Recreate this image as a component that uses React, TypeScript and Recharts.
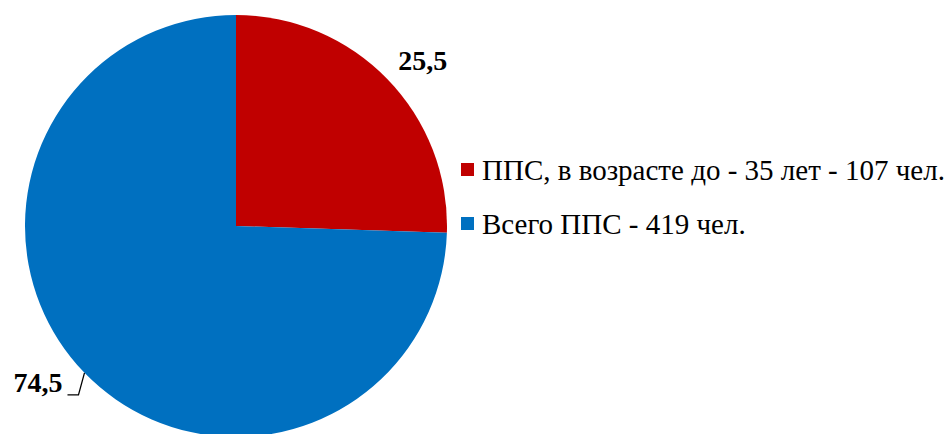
import { PieChart, Pie, Cell, Legend } from 'recharts'

const categories = ['ППС, в возрасте до - 35 лет - 107 чел.', 'Всего ППС - 419 чел.']
const shares = [25.5, 74.5]
const valueLabels = ['25,5', '74,5']
const colors = ['#C00000', '#0070C0']

const data = categories.map((name, i) => ({ name, value: shares[i] }))

const RADIAN = Math.PI / 180
const FONT = 'Liberation Serif'

const renderLabel = (props: any) => {
  const { cx, cy, midAngle, outerRadius, index } = props
  const cos = Math.cos(-midAngle * RADIAN)
  const sin = Math.sin(-midAngle * RADIAN)
  if (index === 0) {
    const r = outerRadius + 38
    const x = cx + r * cos + 8
    const y = cy + r * sin + 8
    return (
      <text x={x} y={y} textAnchor="middle" dominantBaseline="central" fill="#000"
        fontFamily={FONT} fontSize={28} fontWeight={700}>
        {valueLabels[index]}
      </text>
    )
  }
  // edge point with a small bent leader line
  const px = cx + outerRadius * cos
  const py = cy + outerRadius * sin
  return (
    <g>
      <polyline
        points={`${px},${py} ${px - 6},${py + 22} ${px - 17},${py + 22}`}
        fill="none" stroke="#000" strokeWidth={1.3}
      />
      <text x={px - 22} y={py + 19} textAnchor="end" fill="#000"
        fontFamily={FONT} fontSize={28} fontWeight={700}>
        {valueLabels[index]}
      </text>
    </g>
  )
}

// legend drawn as svg text so it uses the same serif face as the labels
const renderLegend = () => (
  <svg width={491} height={110} style={{ display: 'block' }}>
    {categories.map((c, i) => (
      <g key={c}>
        <rect x={0} y={21 + i * 54} width={13} height={13} fill={colors[i]} />
        <text x={21} y={38 + i * 54} fontFamily={FONT} fontSize={29} fill="#000">
          {c}
        </text>
      </g>
    ))}
  </svg>
)

export default function App() {
  return (
    <div style={{ position: 'fixed', left: 0, top: 0, width: 952, height: 434, background: '#fff' }}>
      <PieChart width={952} height={434} margin={{ top: 0, right: 0, bottom: 0, left: 0 }}>
        <Pie
          data={data}
          dataKey="value"
          cx={236}
          cy={226}
          outerRadius={211}
          startAngle={90}
          endAngle={-270}
          stroke="none"
          label={renderLabel}
          labelLine={false}
          isAnimationActive={false}
        >
          {data.map((d, i) => (
            <Cell key={d.name} fill={colors[i]} />
          ))}
        </Pie>
        <Legend
          layout="vertical"
          content={renderLegend}
          wrapperStyle={{ position: 'absolute', left: 461, top: 142, width: 491 }}
        />
      </PieChart>
    </div>
  )
}
